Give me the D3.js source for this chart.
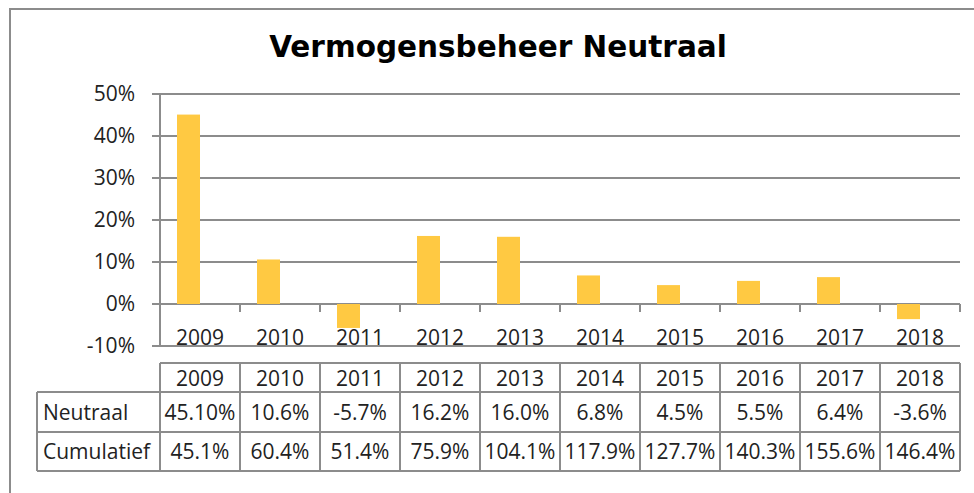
<!DOCTYPE html>
<html>
<head>
<meta charset="utf-8">
<script src="https://cdn.jsdelivr.net/npm/d3@7"></script>
<style>
  body { margin: 0; background: #fff; }
  svg { display: block; }
</style>
</head>
<body>
<div id="chart"></div>
<script>
// data
const years = ["2009", "2010", "2011", "2012", "2013", "2014", "2015", "2016", "2017", "2018"]
const neutraal = [45.1, 10.6, -5.7, 16.2, 16.0, 6.8, 4.5, 5.5, 6.4, -3.6]
const neutraalLabels = ["45.10%", "10.6%", "-5.7%", "16.2%", "16.0%", "6.8%", "4.5%", "5.5%", "6.4%", "-3.6%"]
const cumulatiefLabels = ["45.1%", "60.4%", "51.4%", "75.9%", "104.1%", "117.9%", "127.7%", "140.3%", "155.6%", "146.4%"]
const yTicks = [-10, 0, 10, 20, 30, 40, 50]
const rowNames = ["Neutraal", "Cumulatief"]

// dimensions
const width = 974
const height = 493
const plot = { left: 160, right: 960, top: 94, bottom: 346 }
const font = "'Open Sans', 'Liberation Sans', sans-serif"
const grey = "#8c8c8c"

const svg = d3.select("#chart").append("svg")
    .attr("width", width)
    .attr("height", height)

// outer frame (cut off on right and bottom)
svg.append("path")
    .attr("d", `M10,${height} V9 H${width}`)
    .attr("fill", "none")
    .attr("stroke", grey)
    .attr("stroke-width", 2)

svg.append("text")
    .attr("x", 498)
    .attr("y", 57)
    .attr("text-anchor", "middle")
    .style("font-family", "'DejaVu Sans', Verdana, sans-serif")
    .style("font-weight", "bold")
    .style("font-size", "29.5px")
    .attr("fill", "#000")
    .text("Vermogensbeheer Neutraal")

// scales
const xScale = d3.scaleBand()
    .domain(years)
    .range([plot.left, plot.right])

const yScale = d3.scaleLinear()
    .domain([-10, 50])
    .range([plot.bottom, plot.top])

// gridlines + left ticks
svg.append("g").selectAll("line")
    .data(yTicks).join("line")
    .attr("x1", plot.left - 8)
    .attr("x2", plot.right)
    .attr("y1", d => yScale(d))
    .attr("y2", d => yScale(d))
    .attr("stroke", grey)
    .attr("stroke-width", 2)

// y axis labels
const yAxis = svg.append("g")
    .attr("transform", `translate(${plot.left - 25},0)`)
    .call(d3.axisLeft(yScale).tickValues(yTicks).tickSize(0).tickPadding(0).tickFormat(d => d + "%"))
yAxis.select(".domain").remove()
yAxis.selectAll("text")
    .style("font-family", font)
    .style("font-size", "21px")
    .attr("fill", "#222")

// bars (left half of each cluster)
const barWidth = 23
svg.append("g").selectAll("rect")
    .data(neutraal).join("rect")
    .attr("x", (d, i) => xScale(years[i]) + xScale.bandwidth() / 2 - barWidth)
    .attr("y", d => yScale(Math.max(0, d)))
    .attr("width", barWidth)
    .attr("height", d => Math.abs(yScale(d) - yScale(0)))
    .attr("fill", "#ffc942")

// y axis line
svg.append("line")
    .attr("x1", plot.left).attr("x2", plot.left)
    .attr("y1", plot.top).attr("y2", plot.bottom)
    .attr("stroke", grey)
    .attr("stroke-width", 2)

// category ticks on zero line
const boundaries = years.map(y => xScale(y)).concat([plot.right])
svg.append("g").selectAll("line")
    .data(boundaries.slice(1)).join("line")
    .attr("x1", d => d).attr("x2", d => d)
    .attr("y1", yScale(0)).attr("y2", yScale(0) + 8)
    .attr("stroke", grey)
    .attr("stroke-width", 2)

// category labels
svg.append("g").selectAll("text")
    .data(years).join("text")
    .attr("x", d => xScale(d) + xScale.bandwidth() / 2)
    .attr("y", 345)
    .attr("text-anchor", "middle")
    .style("font-family", font)
    .style("font-size", "21px")
    .attr("fill", "#222")
    .text(d => d)

// data table
const rowY = [363, 392, 432, 471]
const tableLeft = 37
const table = svg.append("g")
    .attr("fill", "none")
    .attr("stroke", grey)
    .attr("stroke-width", 2)

// horizontal lines
table.append("line").attr("x1", plot.left).attr("x2", plot.right).attr("y1", rowY[0]).attr("y2", rowY[0])
rowY.slice(1).forEach(y => {
    table.append("line").attr("x1", tableLeft).attr("x2", plot.right).attr("y1", y).attr("y2", y)
})
// vertical lines
table.append("line").attr("x1", tableLeft).attr("x2", tableLeft).attr("y1", rowY[1]).attr("y2", rowY[3])
boundaries.forEach(x => {
    table.append("line").attr("x1", x).attr("x2", x).attr("y1", rowY[0]).attr("y2", rowY[3])
})

const cellText = (g, data, y) => g.selectAll("text")
    .data(data).join("text")
    .attr("x", (d, i) => xScale(years[i]) + xScale.bandwidth() / 2)
    .attr("y", y)
    .attr("text-anchor", "middle")
    .style("font-family", font)
    .style("font-size", "21px")
    .attr("fill", "#222")
    .text(d => d)

cellText(svg.append("g"), years, 386)
cellText(svg.append("g"), neutraalLabels, 420)
cellText(svg.append("g"), cumulatiefLabels, 459)

svg.append("g").selectAll("text")
    .data(rowNames).join("text")
    .attr("x", 43)
    .attr("y", (d, i) => [420, 459][i])
    .style("font-family", font)
    .style("font-size", "21px")
    .attr("fill", "#222")
    .text(d => d)
</script>
</body>
</html>
